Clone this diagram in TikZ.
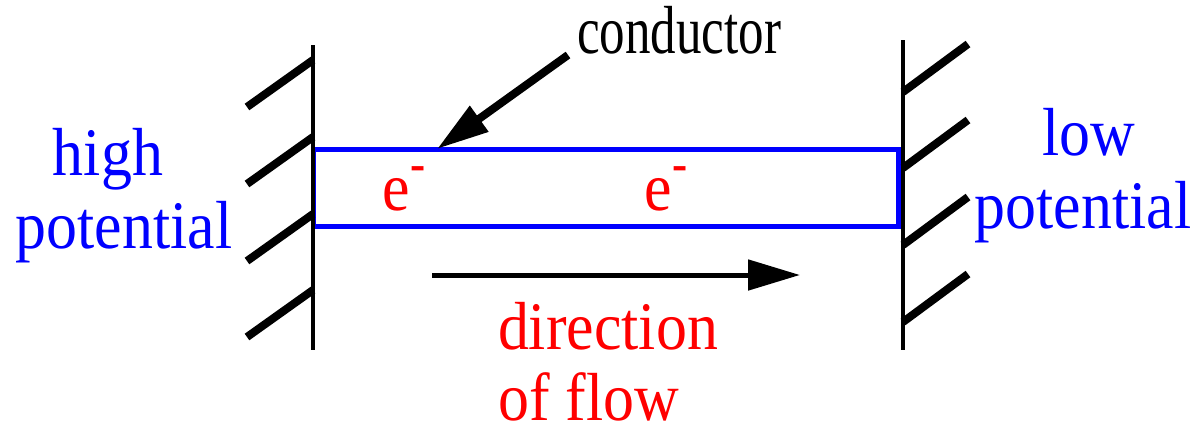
\documentclass[tikz,border=0pt]{standalone}
\usepackage{fontspec}
\setmainfont{Liberation Serif}
\newfontfamily\pixfont{Liberation Serif}[FakeStretch=0.91]
\newfontfamily\pixfontnarrow{Liberation Serif}[FakeStretch=0.75]
\usetikzlibrary{arrows.meta}
\newcommand{\elec}{e\raisebox{30pt}{\fontsize{50}{50}\selectfont\bfseries -}}
\tikzset{
  lbl/.style={inner sep=0pt, anchor=base, font=\fontsize{68}{73}\selectfont\pixfont},
  wall/.style={line width=4pt},
  hatch/.style={line width=8pt},
  bigarrow/.style={-{Triangle[length=52pt,width=30pt]}},
}
\begin{document}
\begin{tikzpicture}[x=1pt,y=1pt]
\useasboundingbox (0,0) rectangle (1193,-429);

\node[draw=blue, line width=5pt, outer sep=0pt, inner sep=0pt, minimum width=585pt, minimum height=77pt] (cond) at (605.5,-187.5) {};

\draw[wall] (313,-45) -- (313,-350);
\draw[wall] (903,-40) -- (903,-350);
\foreach \y in {60,137,214,290} \draw[hatch] (313,-\y) -- ++(-66,-47);
\foreach \y in {92,168,245,322} \draw[hatch] (903,-\y) -- ++(65,48);

\node[lbl, text=blue] (high) at (108,-175) {high};
\node[lbl, text=blue] (highpot) at (124,-248) {potential};
\node[lbl, text=blue] (low) at (1089,-155) {low};
\node[lbl, text=blue] (lowpot) at (1083,-228) {potential};

\node[lbl, text=red] (e1) at (404,-210) {\elec};
\node[lbl, text=red] (e2) at (666,-210) {\elec};

\node[lbl, text=red] (dir) at (608,-349) {direction};
\node[lbl, text=red] (flow) at (589,-420) {of flow};

\node[lbl, font=\fontsize{68}{73}\selectfont\pixfontnarrow] (conductor) at (679,-53) {conductor};

\coordinate (tail) at (568,-55);
\coordinate (tip) at ([xshift=124pt]cond.north west);
\draw[line width=8pt, bigarrow] (tail) -- (tip);

\coordinate (flowstart) at (432,-275);
\coordinate (flowend) at (800,-275);
\draw[line width=5pt, bigarrow] (flowstart) -- (flowend);

\end{tikzpicture}
\end{document}
